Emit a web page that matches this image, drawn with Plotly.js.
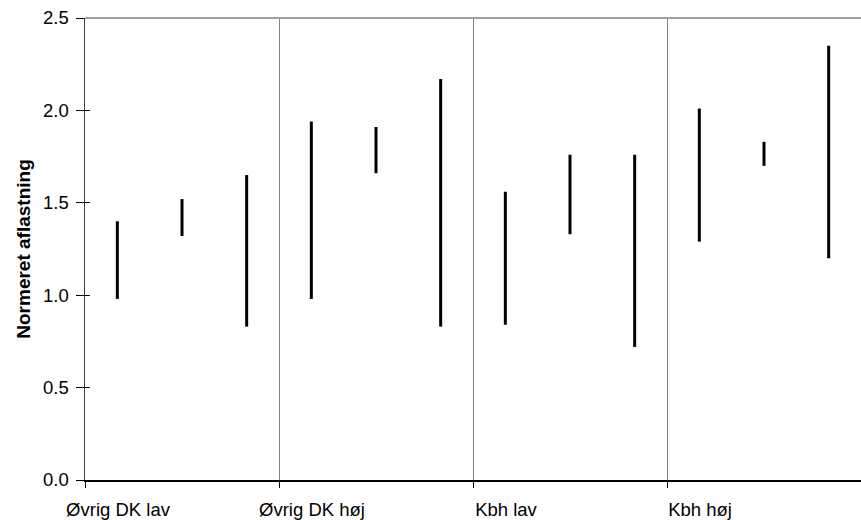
<!DOCTYPE html>
<html>
<head>
<meta charset="utf-8">
<script src="https://cdn.plot.ly/plotly-3.0.1.min.js"></script>
<style>html,body{margin:0;padding:0;background:#fff;overflow:hidden;}#chart{width:861px;height:520px;}</style>
</head>
<body>
<div id="chart"></div>
<script>
// Groups (x-axis categories)
const groups = ["Øvrig DK lav", "Øvrig DK høj", "Kbh lav", "Kbh høj"];
// Three high-low ranges per group
const series1Low  = [0.98, 0.98, 0.84, 1.29];
const series1High = [1.40, 1.94, 1.56, 2.01];
const series2Low  = [1.32, 1.66, 1.33, 1.70];
const series2High = [1.52, 1.91, 1.76, 1.83];
const series3Low  = [0.83, 0.83, 0.72, 1.20];
const series3High = [1.65, 2.17, 1.76, 2.35];
const yTicks = [0, 0.5, 1.0, 1.5, 2.0, 2.5];

const lows = [series1Low, series2Low, series3Low];
const highs = [series1High, series2High, series3High];
const nSeries = lows.length;

const xs = [], ys = [];
groups.forEach((g, gi) => {
  for (let s = 0; s < nSeries; s++) {
    const pos = gi * nSeries + s + 0.5;
    xs.push(pos, pos, null);
    ys.push(lows[s][gi], highs[s][gi], null);
  }
});

const total = groups.length * nSeries;
const boundaries = groups.map((g, gi) => gi * nSeries);

const font = {family: "Liberation Sans, Arial, sans-serif", size: 18.5, color: "#000"};

const data = [{
  type: "scatter", mode: "lines",
  x: xs, y: ys, xaxis: "x", yaxis: "y",
  line: {color: "#000", width: 3},
  connectgaps: false, hoverinfo: "skip", showlegend: false
}, {
  type: "scatter", mode: "lines",
  x: [], y: [], xaxis: "x", yaxis: "y2",
  showlegend: false, hoverinfo: "skip"
}];

const layout = {
  width: 861, height: 520,
  margin: {l: 85, r: 0, t: 18, b: 40, pad: 0},
  paper_bgcolor: "#fff", plot_bgcolor: "#fff",
  font: font,
  showlegend: false,
  xaxis: {
    range: [0, total], tickmode: "array", tickvals: boundaries,
    ticktext: groups, ticklabelshift: 33, ticklabelstandoff: 6,
    ticks: "outside", ticklen: 6, tickcolor: "#000", tickwidth: 1,
    showgrid: true, gridcolor: "#808080", gridwidth: 1,
    showline: true, linecolor: "#000", linewidth: 1.5,
    zeroline: false, tickfont: font, fixedrange: true
  },
  yaxis: {
    range: [0, 2.5], tickmode: "array", tickvals: yTicks,
    tickformat: ".1f",
    ticks: "outside", ticklen: 8, tickcolor: "#000", tickwidth: 1,
    showgrid: false, showline: true, linecolor: "#404040", linewidth: 1.5,
    zeroline: false, tickfont: font, ticklabelstandoff: 3, fixedrange: true,
    title: {text: "Normeret aflastning", font: {family: "Liberation Sans, Arial, sans-serif", size: 19, color: "#000", weight: "bold"}, standoff: 7}
  },
  yaxis2: {
    overlaying: "y", anchor: "x", side: "left",
    range: [0, 2.5], tickmode: "array", tickvals: yTicks,
    ticks: "inside", ticklen: 5, tickcolor: "#000", tickwidth: 1,
    showticklabels: false, showgrid: false, showline: false, zeroline: false,
    fixedrange: true
  },
  shapes: [{
    type: "line", xref: "paper", yref: "paper", x0: 0, x1: 1, y0: 1, y1: 1,
    line: {color: "#a0a0a0", width: 2}
  }]
};

Plotly.newPlot("chart", data, layout, {staticPlot: true, displayModeBar: false});
</script>
</body>
</html>
